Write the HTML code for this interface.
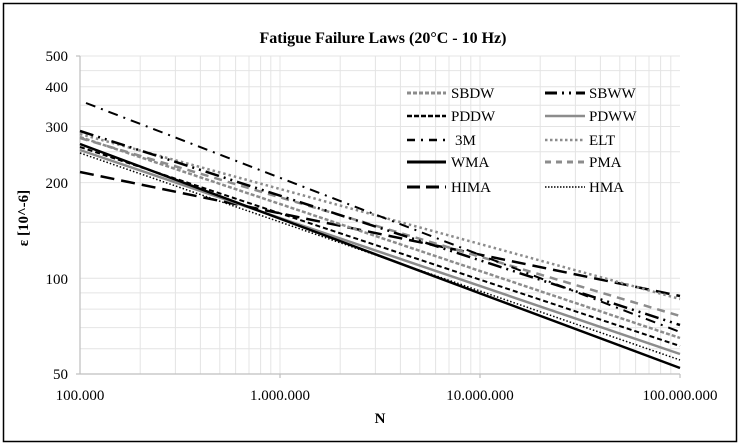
<!DOCTYPE html>
<html><head><meta charset="utf-8"><style>
body{margin:0;background:#fff;}
svg{display:block;font-family:"Liberation Serif",serif;}
</style></head><body>
<svg width="741" height="446" viewBox="0 0 741 446">
<rect x="3.5" y="3.5" width="733" height="438" fill="#fff" stroke="#000" stroke-width="1.5"/>
<text x="383" y="43" text-anchor="middle" font-size="16" font-weight="bold">Fatigue Failure Laws (20°C - 10 Hz)</text>
<g stroke="#e4e4e4" stroke-width="1">
<!-- vertical minor grid -->
<line x1="140.2" y1="56" x2="140.2" y2="374"/><line x1="175.4" y1="56" x2="175.4" y2="374"/><line x1="200.4" y1="56" x2="200.4" y2="374"/><line x1="219.8" y1="56" x2="219.8" y2="374"/><line x1="235.6" y1="56" x2="235.6" y2="374"/><line x1="249" y1="56" x2="249" y2="374"/><line x1="260.6" y1="56" x2="260.6" y2="374"/><line x1="270.8" y1="56" x2="270.8" y2="374"/><line x1="280" y1="56" x2="280" y2="374"/>
<line x1="340.2" y1="56" x2="340.2" y2="374"/><line x1="375.4" y1="56" x2="375.4" y2="374"/><line x1="400.4" y1="56" x2="400.4" y2="374"/><line x1="419.8" y1="56" x2="419.8" y2="374"/><line x1="435.6" y1="56" x2="435.6" y2="374"/><line x1="449" y1="56" x2="449" y2="374"/><line x1="460.6" y1="56" x2="460.6" y2="374"/><line x1="470.8" y1="56" x2="470.8" y2="374"/><line x1="480" y1="56" x2="480" y2="374"/>
<line x1="540.2" y1="56" x2="540.2" y2="374"/><line x1="575.4" y1="56" x2="575.4" y2="374"/><line x1="600.4" y1="56" x2="600.4" y2="374"/><line x1="619.8" y1="56" x2="619.8" y2="374"/><line x1="635.6" y1="56" x2="635.6" y2="374"/><line x1="649" y1="56" x2="649" y2="374"/><line x1="660.6" y1="56" x2="660.6" y2="374"/><line x1="670.8" y1="56" x2="670.8" y2="374"/>
<!-- horizontal grid -->
<line x1="80" y1="56" x2="680" y2="56"/><line x1="80" y1="70.6" x2="680" y2="70.6"/><line x1="80" y1="86.8" x2="680" y2="86.8"/><line x1="80" y1="105.3" x2="680" y2="105.3"/><line x1="80" y1="126.5" x2="680" y2="126.5"/><line x1="80" y1="151.7" x2="680" y2="151.7"/><line x1="80" y1="182.6" x2="680" y2="182.6"/><line x1="80" y1="222.3" x2="680" y2="222.3"/><line x1="80" y1="278.3" x2="680" y2="278.3"/><line x1="80" y1="292.9" x2="680" y2="292.9"/><line x1="80" y1="309.1" x2="680" y2="309.1"/><line x1="80" y1="327.6" x2="680" y2="327.6"/><line x1="80" y1="348.8" x2="680" y2="348.8"/>
</g>
<g stroke="#bfbfbf" stroke-width="1.2">
<line x1="80" y1="56" x2="80" y2="374"/><line x1="80" y1="374" x2="680" y2="374"/>
<line x1="76" y1="56" x2="80" y2="56"/><line x1="76" y1="374" x2="80" y2="374"/>
<line x1="280" y1="374" x2="280" y2="378"/><line x1="480" y1="374" x2="480" y2="378"/><line x1="680" y1="374" x2="680" y2="378"/>
</g>
<g font-size="15" text-anchor="end">
<text x="68" y="61">500</text><text x="68" y="92">400</text><text x="68" y="132">300</text><text x="68" y="188">200</text><text x="68" y="284">100</text><text x="68" y="379">50</text>
</g>
<g font-size="15" text-anchor="middle">
<text x="80" y="400">100.000</text><text x="280" y="400">1.000.000</text><text x="480" y="400">10.000.000</text><text x="680" y="400">100.000.000</text>
</g>
<text x="380" y="423" font-size="15" font-weight="bold" text-anchor="middle">N</text>
<text transform="translate(28,218) rotate(-90)" font-size="15" font-weight="bold" text-anchor="middle">ε [10^-6]</text>
<g fill="none">
<line x1="80" y1="172" x2="680" y2="296" stroke="#000" stroke-width="2.5" stroke-dasharray="14,7"/>
<line x1="80" y1="134" x2="680" y2="299" stroke="#8c8c8c" stroke-width="2.5" stroke-dasharray="2.5,3"/>
<line x1="80" y1="138" x2="680" y2="316" stroke="#8c8c8c" stroke-width="2.5" stroke-dasharray="8,6"/>
<line x1="80" y1="131" x2="680" y2="325" stroke="#000" stroke-width="2.5" stroke-dasharray="14,5,2,5,2,5"/>
<line x1="86" y1="103" x2="680" y2="332" stroke="#000" stroke-width="2" stroke-dasharray="10,6,2,6"/>
<line x1="80" y1="137" x2="680" y2="338" stroke="#8c8c8c" stroke-width="2.5" stroke-dasharray="4,2"/>
<line x1="80" y1="147" x2="680" y2="346" stroke="#000" stroke-width="2" stroke-dasharray="5,3"/>
<line x1="80" y1="150" x2="680" y2="354" stroke="#8c8c8c" stroke-width="2.5"/>
<line x1="80" y1="153" x2="680" y2="360" stroke="#000" stroke-width="1.5" stroke-dasharray="1.5,2"/>
<line x1="80" y1="144" x2="680" y2="368" stroke="#000" stroke-width="2.5"/>
</g>
<g fill="none">
<line x1="407" y1="93" x2="446" y2="93" stroke="#8c8c8c" stroke-width="3" stroke-dasharray="4,2"/>
<line x1="407" y1="116" x2="446" y2="116" stroke="#000" stroke-width="2.5" stroke-dasharray="5,2"/>
<line x1="407" y1="140" x2="446" y2="140" stroke="#000" stroke-width="2.5" stroke-dasharray="8,6,2,6"/>
<line x1="407" y1="162" x2="446" y2="162" stroke="#000" stroke-width="3"/>
<line x1="407" y1="187" x2="446" y2="187" stroke="#000" stroke-width="3" stroke-dasharray="13,6"/>
<line x1="545" y1="93" x2="585" y2="93" stroke="#000" stroke-width="3" stroke-dasharray="12,5,2,5,2,5"/>
<line x1="545" y1="116" x2="585" y2="116" stroke="#8c8c8c" stroke-width="2.5"/>
<line x1="545" y1="140" x2="585" y2="140" stroke="#8c8c8c" stroke-width="2.5" stroke-dasharray="2.5,2.5"/>
<line x1="545" y1="162" x2="585" y2="162" stroke="#8c8c8c" stroke-width="3" stroke-dasharray="6,5"/>
<line x1="545" y1="187" x2="585" y2="187" stroke="#000" stroke-width="1.5" stroke-dasharray="1.5,1.5"/>
</g>
<g font-size="15">
<text x="451" y="98">SBDW</text><text x="451" y="121">PDDW</text><text x="455" y="145">3M</text><text x="451" y="167">WMA</text><text x="451" y="192">HIMA</text>
<text x="589" y="98">SBWW</text><text x="589" y="121">PDWW</text><text x="589" y="145">ELT</text><text x="589" y="167">PMA</text><text x="589" y="192">HMA</text>
</g>
</svg>
</body></html>
